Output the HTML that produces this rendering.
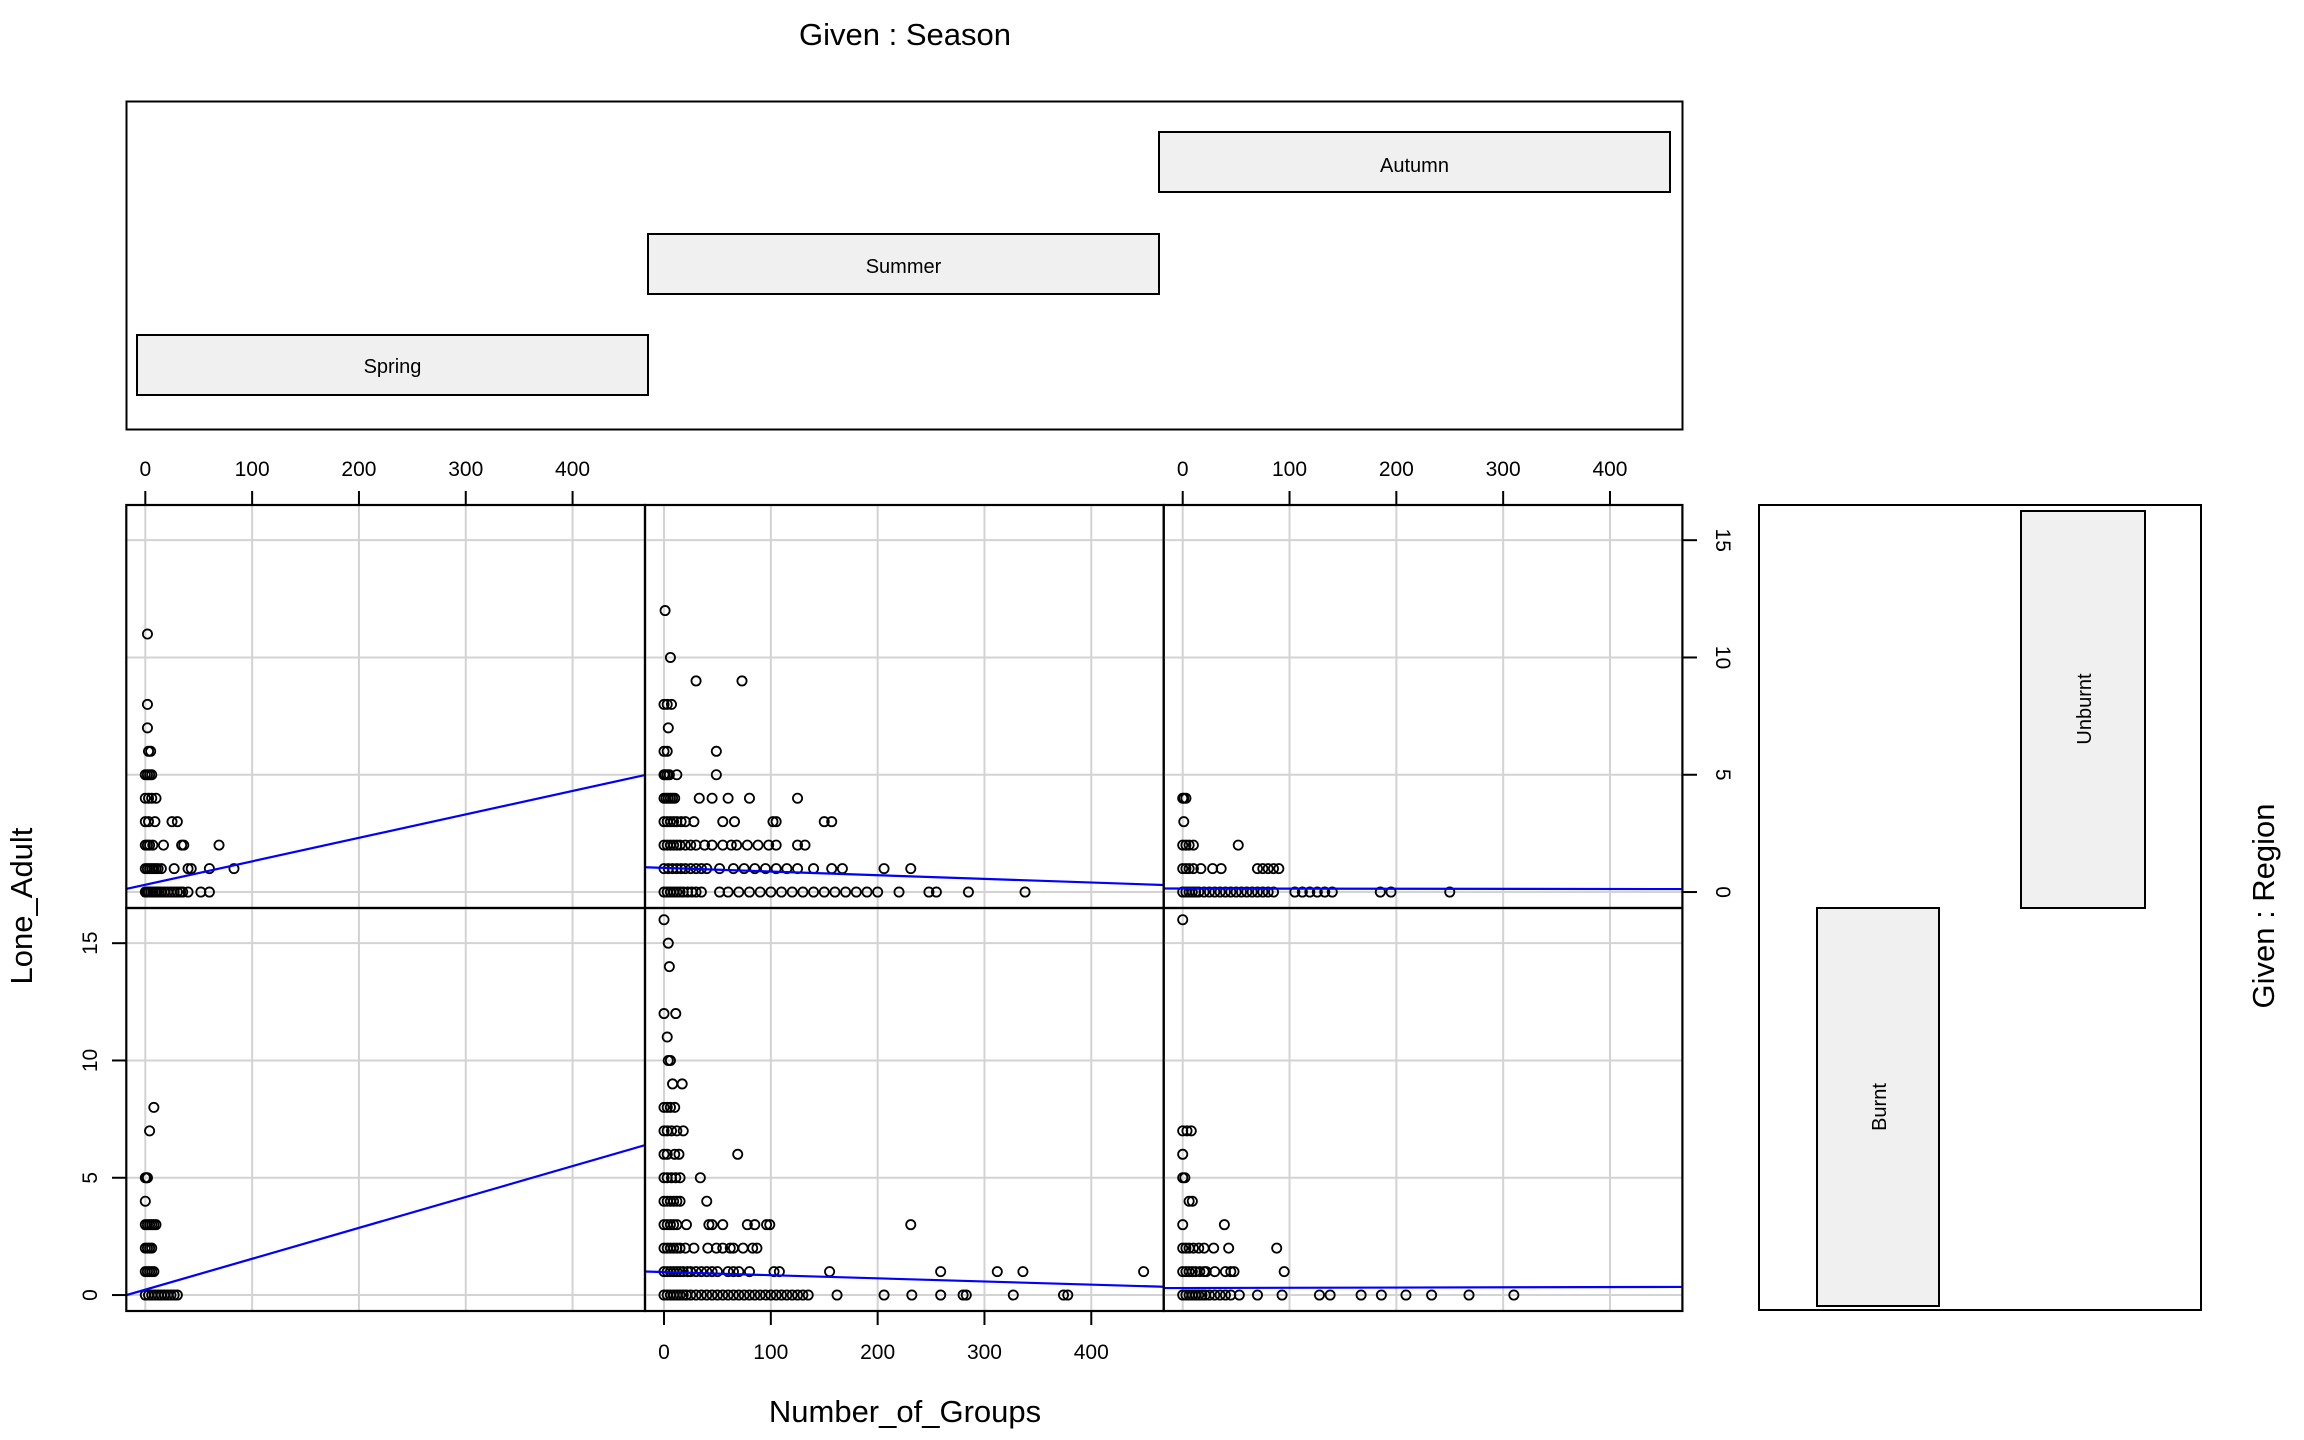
<!DOCTYPE html>
<html><head><meta charset="utf-8"><title>Coplot Lone_Adult vs Number_of_Groups</title>
<style>
html,body{margin:0;padding:0;background:#fff;}
svg{display:block;font-family:"Liberation Sans",Arial,sans-serif;}
</style></head>
<body>
<svg id="chart" width="2304" height="1440" viewBox="0 0 2304 1440" xmlns="http://www.w3.org/2000/svg">
  <text x="905" y="45" font-size="31" text-anchor="middle">Given : Season</text>
  <rect x="126.5" y="101.5" width="1556" height="328" fill="none" stroke="#000" stroke-width="2"/>
  <rect x="1159" y="132" width="511" height="60" fill="#f0f0f0" stroke="#000" stroke-width="2"/>
  <text x="1414.5" y="172" font-size="20" text-anchor="middle">Autumn</text>
  <rect x="648" y="234" width="511" height="60" fill="#f0f0f0" stroke="#000" stroke-width="2"/>
  <text x="903.5" y="273" font-size="20" text-anchor="middle">Summer</text>
  <rect x="137" y="335" width="511" height="60" fill="#f0f0f0" stroke="#000" stroke-width="2"/>
  <text x="392.5" y="373" font-size="20" text-anchor="middle">Spring</text>

  <rect x="1759" y="505" width="442" height="805" fill="none" stroke="#000" stroke-width="2"/>
  <rect x="2021" y="511" width="124" height="397" fill="#f0f0f0" stroke="#000" stroke-width="2"/>
  <text transform="translate(2091,709) rotate(-90)" font-size="20" text-anchor="middle">Unburnt</text>
  <rect x="1817" y="908" width="122" height="398" fill="#f0f0f0" stroke="#000" stroke-width="2"/>
  <text transform="translate(1886,1107) rotate(-90)" font-size="20" text-anchor="middle">Burnt</text>
  <text transform="translate(2274,906) rotate(-90)" font-size="31" text-anchor="middle">Given : Region</text>

  <text x="905" y="1422" font-size="31" text-anchor="middle">Number_of_Groups</text>
  <text transform="translate(32,906) rotate(-90)" font-size="31" text-anchor="middle">Lone_Adult</text>
  <g id="panels"></g>
</svg>
<script>
// x tick labels and y tick labels
const xTicks = [0, 100, 200, 300, 400];
const yTicks = [0, 5, 10, 15];
// fitted line intercepts / slopes per panel: order spring-unburnt, summer-unburnt, autumn-unburnt, spring-burnt, summer-burnt, autumn-burnt
const lineIntercepts = [0.31, 1.03, 0.15, 0.23, 0.98, 0.30];
const lineSlopes = [0.0100, -0.00156, -0.00005, 0.01317, -0.00134, 0.0001];
// scatter data per panel
const springUnburntX = [2,2,2,3,5,0,2,4,6,0,3,6,10,0,3,9,25,30,0,2,4,7,17,34,36,69,0,2,4,6,8,10,12,15,27,40,43,60,83,0,1,2,3,5,7,9,11,13,15,18,21,24,27,30,33,35,40,52,60];
const springUnburntY = [11,8,7,6,6,5,5,5,5,4,4,4,4,3,3,3,3,3,2,2,2,2,2,2,2,2,1,1,1,1,1,1,1,1,1,1,1,1,1,0,0,0,0,0,0,0,0,0,0,0,0,0,0,0,0,0,0,0,0];
const summerUnburntX = [1,6,30,73,0,3,7,4,0,3,49,0,1,3,5,12,49,0,2,4,6,8,10,33,45,60,80,125,0,3,6,9,12,16,20,28,55,66,102,105,150,157,0,3,6,9,12,15,20,25,30,38,45,55,63,68,78,88,98,105,125,132,0,4,8,12,16,20,25,30,35,40,52,65,75,85,95,105,115,125,140,157,167,206,231,0,3,6,9,12,15,18,22,26,30,35,52,60,70,80,90,100,110,120,130,140,150,160,170,180,190,200,220,248,255,285,338];
const summerUnburntY = [12,10,9,9,8,8,8,7,6,6,6,5,5,5,5,5,5,4,4,4,4,4,4,4,4,4,4,4,3,3,3,3,3,3,3,3,3,3,3,3,3,3,2,2,2,2,2,2,2,2,2,2,2,2,2,2,2,2,2,2,2,2,1,1,1,1,1,1,1,1,1,1,1,1,1,1,1,1,1,1,1,1,1,1,1,0,0,0,0,0,0,0,0,0,0,0,0,0,0,0,0,0,0,0,0,0,0,0,0,0,0,0,0,0,0,0,0];
const autumnUnburntX = [0,1,3,1,0,3,6,10,52,0,3,6,10,17,28,36,70,75,80,85,90,0,3,6,9,12,15,20,25,30,35,40,45,50,55,60,65,70,75,80,85,105,112,119,126,133,140,185,195,250];
const autumnUnburntY = [4,4,4,3,2,2,2,2,2,1,1,1,1,1,1,1,1,1,1,1,1,0,0,0,0,0,0,0,0,0,0,0,0,0,0,0,0,0,0,0,0,0,0,0,0,0,0,0,0,0];
const springBurntX = [8,4,0,1,2,0,0,2,4,6,8,10,0,2,4,6,0,2,4,6,8,0,3,6,9,12,15,18,21,24,27,30];
const springBurntY = [8,7,5,5,5,4,3,3,3,3,3,3,2,2,2,2,1,1,1,1,1,0,0,0,0,0,0,0,0,0,0,0];
const summerBurntX = [0,4,5,0,11,3,4,6,8,17,0,3,6,10,0,3,7,12,18,0,3,10,14,69,0,3,7,11,15,34,0,3,6,9,12,15,40,0,3,6,9,12,21,42,45,55,78,85,96,99,231,0,3,6,9,12,15,20,28,41,49,55,62,65,74,83,87,0,3,6,9,12,15,18,22,25,30,35,40,45,50,60,65,70,80,103,108,155,259,312,336,449,0,3,6,9,12,15,18,21,25,30,35,40,45,50,55,60,65,70,75,80,85,90,95,100,105,110,115,120,125,130,135,162,206,232,259,280,283,327,374,378];
const summerBurntY = [16,15,14,12,12,11,10,10,9,9,8,8,8,8,7,7,7,7,7,6,6,6,6,6,5,5,5,5,5,5,4,4,4,4,4,4,4,3,3,3,3,3,3,3,3,3,3,3,3,3,3,2,2,2,2,2,2,2,2,2,2,2,2,2,2,2,2,1,1,1,1,1,1,1,1,1,1,1,1,1,1,1,1,1,1,1,1,1,1,1,1,1,0,0,0,0,0,0,0,0,0,0,0,0,0,0,0,0,0,0,0,0,0,0,0,0,0,0,0,0,0,0,0,0,0,0,0,0,0,0,0,0,0,0,0];
const autumnBurntX = [0,0,4,8,0,0,2,6,9,0,39,0,3,6,10,15,20,29,43,88,0,3,6,9,12,16,20,22,30,40,45,48,95,0,3,6,9,12,15,18,21,25,30,35,40,45,53,70,93,128,138,167,186,209,233,268,310];
const autumnBurntY = [16,7,7,7,6,5,5,4,4,3,3,2,2,2,2,2,2,2,2,2,1,1,1,1,1,1,1,1,1,1,1,1,1,0,0,0,0,0,0,0,0,0,0,0,0,0,0,0,0,0,0,0,0,0,0,0,0];

const panelXs = [springUnburntX, summerUnburntX, autumnUnburntX, springBurntX, summerBurntX, autumnBurntX];
const panelYs = [springUnburntY, summerUnburntY, autumnUnburntY, springBurntY, summerBurntY, autumnBurntY];
const panelNames = ['spring-unburnt','summer-unburnt','autumn-unburnt','spring-burnt','summer-burnt','autumn-burnt'];

const NS = 'http://www.w3.org/2000/svg';
const root = document.getElementById('panels');
const PW = 518.7, PH = 403, PX0 = 126.3, PY0 = 505;
const XMIN = -17.8, XMAX = 467.8, YMIN = -0.68, YMAX = 16.5;
function mk(tag, attrs, parent){ const e = document.createElementNS(NS, tag); for (const k in attrs) e.setAttribute(k, attrs[k]); (parent||root).appendChild(e); return e; }
function sx(col, v){ return PX0 + col*PW + (v - XMIN)/(XMAX - XMIN)*PW; }
function sy(row, v){ return PY0 + row*PH + PH - (v - YMIN)/(YMAX - YMIN)*PH; }

for (let p = 0; p < 6; p++) {
  const col = p % 3, row = Math.floor(p / 3);
  const g = mk('g', {});
  
  
  const left = PX0 + col*PW, top = PY0 + row*PH;
  const cp = mk('clipPath', {id: 'cp' + p}, g);
  mk('rect', {x: left, y: top, width: PW, height: PH}, cp);
  const inner = mk('g', {'clip-path': 'url(#cp' + p + ')'}, g);
  xTicks.forEach(t => {
    const gl = mk('line', {x1: sx(col, t), x2: sx(col, t), y1: top, y2: top + PH, stroke: '#d3d3d3', 'stroke-width': 2}, inner);
    
    
  });
  yTicks.forEach(t => {
    const gl = mk('line', {x1: left, x2: left + PW, y1: sy(row, t), y2: sy(row, t), stroke: '#d3d3d3', 'stroke-width': 2}, inner);
    
    
  });
  const xs = panelXs[p], ys = panelYs[p];
  for (let i = 0; i < xs.length; i++) {
    const c = mk('circle', {cx: sx(col, xs[i]), cy: sy(row, ys[i]), r: 4.6, fill: 'none', stroke: '#000', 'stroke-width': 1.8}, inner);
    
    
  }
  const b0 = lineIntercepts[p], b1 = lineSlopes[p];
  const fl = mk('line', {x1: sx(col, XMIN), y1: sy(row, b0 + b1*XMIN), x2: sx(col, XMAX), y2: sy(row, b0 + b1*XMAX), stroke: '#0000ff', 'stroke-width': 2.2}, inner);
  
  
  const bd = mk('rect', {x: left, y: top, width: PW, height: PH, fill: 'none', stroke: '#000', 'stroke-width': 2.2}, g);
  
  
}

function xAxis(col, top) {
  const ax = mk('g', {});
  
  
  xTicks.forEach(t => {
    const x = sx(col, t);
    if (top) {
      mk('line', {x1: x, x2: x, y1: 491, y2: 505, stroke: '#000', 'stroke-width': 2}, ax);
      const tx = mk('text', {x: x, y: 476, 'font-size': 21, 'text-anchor': 'middle'}, ax);
      tx.textContent = t;
      
      
    } else {
      mk('line', {x1: x, x2: x, y1: 1311, y2: 1325, stroke: '#000', 'stroke-width': 2}, ax);
      const tx = mk('text', {x: x, y: 1359, 'font-size': 21, 'text-anchor': 'middle'}, ax);
      tx.textContent = t;
      
      
    }
  });
}
xAxis(0, true); xAxis(2, true); xAxis(1, false);

function yAxis(row, right) {
  const ax = mk('g', {});
  
  
  yTicks.forEach(t => {
    const y = sy(row, t);
    if (right) {
      mk('line', {x1: 1682, x2: 1697, y1: y, y2: y, stroke: '#000', 'stroke-width': 2}, ax);
      const tx = mk('text', {transform: 'translate(1716,' + y + ') rotate(90)', 'font-size': 21, 'text-anchor': 'middle'}, ax);
      tx.textContent = t;
      
      
    } else {
      mk('line', {x1: 112, x2: 126, y1: y, y2: y, stroke: '#000', 'stroke-width': 2}, ax);
      const tx = mk('text', {transform: 'translate(97,' + y + ') rotate(-90)', 'font-size': 21, 'text-anchor': 'middle'}, ax);
      tx.textContent = t;
      
      
    }
  });
}
yAxis(0, true); yAxis(1, false);
</script>
</body></html>
